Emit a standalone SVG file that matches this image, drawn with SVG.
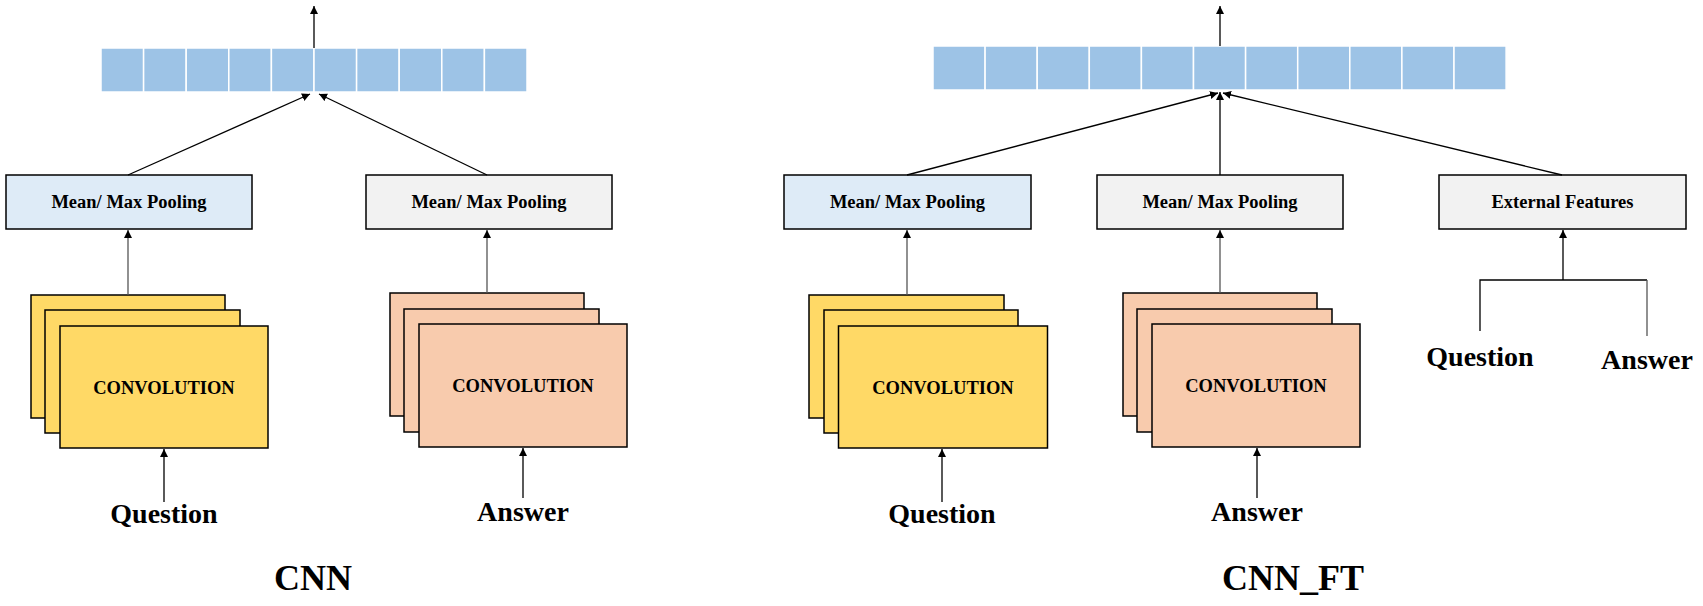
<svg xmlns="http://www.w3.org/2000/svg" width="1703" height="606" viewBox="0 0 1703 606">
<defs>
<style>
.cell{fill:#9dc3e6;stroke:#ffffff;stroke-width:1.5}
.box{stroke:#000;stroke-width:1.5}
.pb{fill:#deebf7}
.pg{fill:#f2f2f2}
.yl{fill:#ffd966;stroke:#000;stroke-width:1.5}
.pc{fill:#f8cbad;stroke:#000;stroke-width:1.5}
.lbl{font-family:"Liberation Serif","Times New Roman",serif;font-weight:bold;fill:#000;text-anchor:middle}
.s18{font-size:18.5px}
.s28{font-size:28px}
.s36{font-size:36px}
.ln{stroke:#000;stroke-width:1.3;fill:none}
.ar{marker-end:url(#ah)}
.gr{stroke:#555}
</style>
<marker id="ah" markerUnits="userSpaceOnUse" markerWidth="9" markerHeight="9" refX="8" refY="4" orient="auto">
<path d="M0,0 L8,4 L0,8 z" fill="#000"/>
</marker>
</defs>
<rect width="1703" height="606" fill="#fff"/>

<g id="bar-left">
<rect class="cell" x="101" y="48" width="42.6" height="44"/>
<rect class="cell" x="143.6" y="48" width="42.6" height="44"/>
<rect class="cell" x="186.2" y="48" width="42.6" height="44"/>
<rect class="cell" x="228.8" y="48" width="42.6" height="44"/>
<rect class="cell" x="271.4" y="48" width="42.6" height="44"/>
<rect class="cell" x="314" y="48" width="42.6" height="44"/>
<rect class="cell" x="356.6" y="48" width="42.6" height="44"/>
<rect class="cell" x="399.2" y="48" width="42.6" height="44"/>
<rect class="cell" x="441.8" y="48" width="42.6" height="44"/>
<rect class="cell" x="484.4" y="48" width="42.6" height="44"/>
</g>

<g id="bar-right">
<rect class="cell" x="933" y="46" width="52.1" height="44"/>
<rect class="cell" x="985.1" y="46" width="52.1" height="44"/>
<rect class="cell" x="1037.2" y="46" width="52.1" height="44"/>
<rect class="cell" x="1089.3" y="46" width="52.1" height="44"/>
<rect class="cell" x="1141.4" y="46" width="52.1" height="44"/>
<rect class="cell" x="1193.5" y="46" width="52.1" height="44"/>
<rect class="cell" x="1245.6" y="46" width="52.1" height="44"/>
<rect class="cell" x="1297.7" y="46" width="52.1" height="44"/>
<rect class="cell" x="1349.8" y="46" width="52.1" height="44"/>
<rect class="cell" x="1401.9" y="46" width="52.1" height="44"/>
<rect class="cell" x="1454" y="46" width="52.1" height="44"/>
</g>

<g id="pool-q-left">
<rect class="box pb" x="6" y="175" width="246" height="54"/>
<text class="lbl s18" x="129" y="208">Mean/ Max Pooling</text>
</g>
<g id="pool-a-left">
<rect class="box pg" x="366" y="175" width="246" height="54"/>
<text class="lbl s18" x="489" y="208">Mean/ Max Pooling</text>
</g>
<g id="pool-q-right">
<rect class="box pb" x="784" y="175" width="247" height="54"/>
<text class="lbl s18" x="907.5" y="208">Mean/ Max Pooling</text>
</g>
<g id="pool-a-right">
<rect class="box pg" x="1097" y="175" width="246" height="54"/>
<text class="lbl s18" x="1220" y="208">Mean/ Max Pooling</text>
</g>
<g id="ext-features">
<rect class="box pg" x="1439" y="175" width="247" height="54"/>
<text class="lbl s18" x="1562.5" y="208">External Features</text>
</g>

<g id="conv-q-left">
<rect class="yl" x="31" y="295" width="194" height="123"/>
<rect class="yl" x="45" y="310" width="195" height="123"/>
<rect class="yl" x="60" y="326" width="208" height="122"/>
<text class="lbl s18" x="164" y="394">CONVOLUTION</text>
</g>
<g id="conv-a-left">
<rect class="pc" x="390" y="293" width="194" height="123"/>
<rect class="pc" x="404" y="309" width="195" height="123"/>
<rect class="pc" x="419" y="324" width="208" height="123"/>
<text class="lbl s18" x="523" y="392">CONVOLUTION</text>
</g>
<g id="conv-q-right">
<rect class="yl" x="809" y="295" width="195" height="123"/>
<rect class="yl" x="824" y="310" width="194" height="123"/>
<rect class="yl" x="838.5" y="326" width="209" height="122"/>
<text class="lbl s18" x="943" y="394">CONVOLUTION</text>
</g>
<g id="conv-a-right">
<rect class="pc" x="1123" y="293" width="194" height="123"/>
<rect class="pc" x="1137" y="309" width="195" height="123"/>
<rect class="pc" x="1152" y="324" width="208" height="123"/>
<text class="lbl s18" x="1256" y="392">CONVOLUTION</text>
</g>

<g id="inputs">
<text class="lbl s28" x="164" y="523">Question</text>
<text class="lbl s28" x="523" y="521">Answer</text>
<text class="lbl s28" x="942" y="523">Question</text>
<text class="lbl s28" x="1257" y="521">Answer</text>
<text class="lbl s28" x="1480" y="366">Question</text>
<text class="lbl s28" x="1647" y="369">Answer</text>
</g>

<g id="titles">
<text class="lbl s36" x="313" y="590">CNN</text>
<text class="lbl s36" x="1293" y="590">CNN_FT</text>
</g>

<g id="connectors">
<line class="ln ar" x1="314" y1="48" x2="314" y2="6"/>
<line class="ln ar" x1="1220" y1="46" x2="1220" y2="6"/>
<line class="ln ar" x1="128" y1="175" x2="310" y2="94"/>
<line class="ln ar" x1="487" y1="175" x2="319" y2="94"/>
<line class="ln ar" x1="907" y1="175" x2="1218" y2="93"/>
<line class="ln ar" x1="1220" y1="175" x2="1220" y2="92"/>
<line class="ln ar" x1="1562" y1="175" x2="1223" y2="93"/>
<line class="ln ar gr" x1="128" y1="295" x2="128" y2="230"/>
<line class="ln ar gr" x1="487" y1="293" x2="487" y2="230"/>
<line class="ln ar gr" x1="907" y1="295" x2="907" y2="230"/>
<line class="ln ar gr" x1="1220" y1="293" x2="1220" y2="230"/>
<line class="ln ar" x1="164" y1="502" x2="164" y2="449"/>
<line class="ln ar" x1="523" y1="498" x2="523" y2="448"/>
<line class="ln ar" x1="942" y1="502" x2="942" y2="449"/>
<line class="ln ar" x1="1257" y1="498" x2="1257" y2="448"/>
<line class="ln ar" x1="1563" y1="280" x2="1563" y2="230"/>
<polyline class="ln" points="1480,331 1480,280 1647,280"/>
<line class="ln gr" x1="1647" y1="280" x2="1647" y2="336"/>
</g>
</svg>
